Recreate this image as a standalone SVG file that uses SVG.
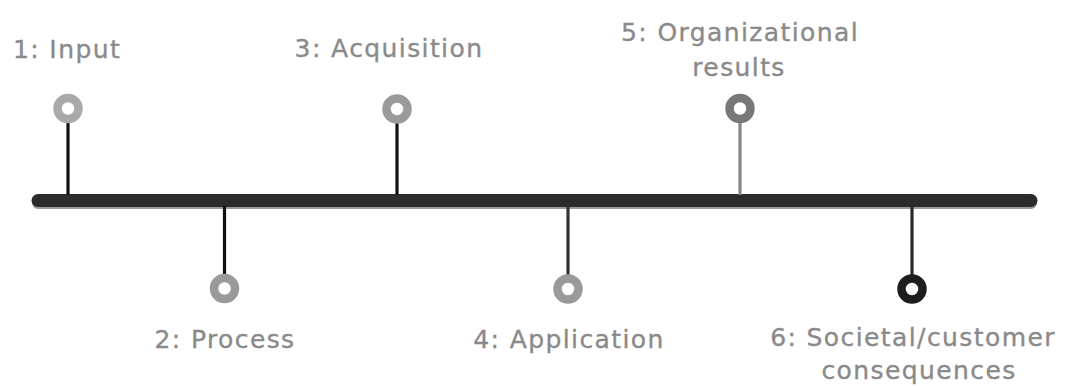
<svg xmlns="http://www.w3.org/2000/svg" width="1066" height="386" viewBox="0 0 1066 386">
  <style>
    .lbl { font-family: "DejaVu Sans", "Liberation Sans", sans-serif; font-size: 25px; fill: #8a8a8a; stroke: #8a8a8a; stroke-width: 0.35px; text-anchor: middle; letter-spacing: 1.4px; }
    .ring { fill: #ffffff; stroke-width: 8.5; }
    .stem { stroke-width: 3.2; fill: none; }
  </style>
  <rect width="1066" height="386" fill="#ffffff"/>
  <g id="connectors">
    <line x1="38" y1="203" x2="1031" y2="203" stroke="#9a9a9a" stroke-width="12" stroke-linecap="round"/>
    <line x1="38" y1="200.5" x2="1031" y2="200.5" stroke="#2b2b2b" stroke-width="13" stroke-linecap="round"/>
    <line class="stem" x1="68" y1="120" x2="68" y2="195" stroke="#111111"/>
    <line class="stem" x1="224.5" y1="206" x2="224.5" y2="278" stroke="#111111"/>
    <line class="stem" x1="397" y1="120" x2="397" y2="195" stroke="#111111"/>
    <line class="stem" x1="568" y1="206" x2="568" y2="278" stroke="#333333"/>
    <line class="stem" x1="740" y1="120" x2="740" y2="195" stroke="#858585" stroke-width="3.6"/>
    <line class="stem" x1="912" y1="206" x2="912" y2="278" stroke="#2a2a2a"/>
  </g>
  <g id="node1">
    <circle class="ring" cx="68" cy="108.5" r="10.5" stroke="#a9a9a9"/>
    <text class="lbl" x="67" y="58">1: Input</text>
  </g>
  <g id="node2">
    <circle class="ring" cx="224.5" cy="288.5" r="10.5" stroke="#9a9a9a"/>
    <text class="lbl" x="225" y="348">2: Process</text>
  </g>
  <g id="node3">
    <circle class="ring" cx="397" cy="109" r="10.5" stroke="#9a9a9a"/>
    <text class="lbl" x="389" y="57">3: Acquisition</text>
  </g>
  <g id="node4">
    <circle class="ring" cx="568" cy="289" r="10.5" stroke="#9a9a9a"/>
    <text class="lbl" x="569" y="348">4: Application</text>
  </g>
  <g id="node5">
    <circle class="ring" cx="740" cy="108.5" r="10.5" stroke="#787878"/>
    <text class="lbl" x="740" y="41">5: Organizational</text>
    <text class="lbl" x="739" y="76">results</text>
  </g>
  <g id="node6">
    <circle class="ring" cx="912" cy="289" r="10.5" stroke="#1e1e1e"/>
    <text class="lbl" x="913" y="346">6: Societal/customer</text>
    <text class="lbl" x="919" y="379">consequences</text>
  </g>
</svg>
